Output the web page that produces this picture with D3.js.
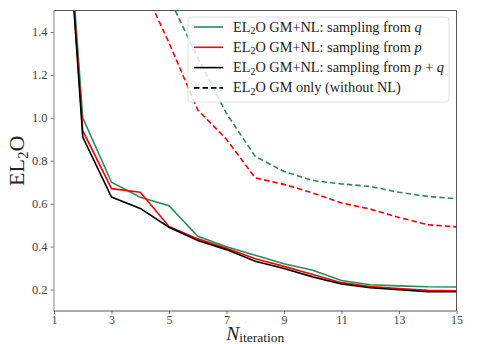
<!DOCTYPE html>
<html>
<head>
<meta charset="utf-8">
<script src="https://cdn.jsdelivr.net/npm/d3@7"></script>
<style>
  body { margin: 0; background: #fff; }
</style>
</head>
<body>
<div id="chart"></div>
<script>
// Datos
const iterations = [1, 2, 3, 4, 5, 6, 7, 8, 9, 10, 11, 12, 13, 14, 15];
const gmnlQ   = [2.85, 1.00, 0.70, 0.63, 0.59, 0.448, 0.399, 0.36, 0.32, 0.29, 0.242, 0.222, 0.217, 0.213, 0.212];
const gmnlP   = [2.85, 0.94, 0.67, 0.653, 0.494, 0.436, 0.392, 0.343, 0.308, 0.27, 0.232, 0.214, 0.205, 0.196, 0.194];
const gmnlPQ  = [2.85, 0.91, 0.631, 0.578, 0.49, 0.428, 0.386, 0.332, 0.298, 0.259, 0.226, 0.208, 0.199, 0.19, 0.19];
const gmOnlyQ = [4.0, 3.0, 2.4, 1.9, 1.56, 1.28, 1.02, 0.82, 0.75, 0.708, 0.692, 0.68, 0.653, 0.634, 0.623];
const gmOnlyP = [3.2, 2.5, 2.0, 1.64, 1.35, 1.037, 0.9, 0.72, 0.69, 0.65, 0.603, 0.575, 0.536, 0.502, 0.492];
const xTicks = [1, 3, 5, 7, 9, 11, 13, 15];
const yTicks = [0.2, 0.4, 0.6, 0.8, 1.0, 1.2, 1.4];

const COLOR_GREEN = '#2e8b57';
const COLOR_RED = '#ff0000';
const COLOR_BLACK = '#000000';
const SERIF = '"Liberation Serif", "DejaVu Serif", serif';

const series = [
    {values: gmnlQ, color: COLOR_GREEN, dash: null},
    {values: gmnlP, color: COLOR_RED, dash: null},
    {values: gmnlPQ, color: COLOR_BLACK, dash: null},
    {values: gmOnlyQ, color: COLOR_GREEN, dash: '5.5,3'},
    {values: gmOnlyP, color: COLOR_RED, dash: '5.5,3'}
];

const legendItems = [
    {color: COLOR_GREEN, dash: null, tail: 'q'},
    {color: COLOR_RED, dash: null, tail: 'p'},
    {color: COLOR_BLACK, dash: null, tail: 'p+q'},
    {color: COLOR_BLACK, dash: '5.5,3', tail: null}
];

let margin = {top: 10.5, right: 34.5, bottom: 33, left: 54},
    width = 491 - margin.left - margin.right,
    height = 344 - margin.top - margin.bottom;

let svg = d3.select('#chart')
    .append('svg')
        .attr('width', 491)
        .attr('height', 344)
        .style('font-family', SERIF)
    .append('g')
        .attr('transform', 'translate(' + margin.left + ',' + margin.top + ')');

let x = d3.scaleLinear().domain([1, 15]).range([0, width]);
let y = d3.scaleLinear().domain([0.1, 1.5]).range([height, 0]);

svg.append('clipPath').attr('id', 'clip')
    .append('rect').attr('width', width).attr('height', height);

//Lineas
let line = d3.line()
    .x(function(d, i) { return x(iterations[i]); })
    .y(function(d) { return y(d); });

let lines = svg.append('g').attr('clip-path', 'url(#clip)');
lines.selectAll('path')
    .data(series)
    .enter()
    .append('path')
    .attr('d', function(d) { return line(d.values); })
    .attr('fill', 'none')
    .attr('stroke', function(d) { return d.color; })
    .attr('stroke-width', 1.6)
    .attr('stroke-dasharray', function(d) { return d.dash; });

//Ejes
let xAxis = svg.append('g')
    .attr('transform', 'translate(0,' + height + ')')
    .call(d3.axisBottom(x).tickValues(xTicks).tickSize(3).tickPadding(1));
let yAxis = svg.append('g')
    .call(d3.axisLeft(y).tickValues(yTicks).tickSize(3.5).tickPadding(3).tickFormat(d3.format('.1f')));

[xAxis, yAxis].forEach(function(g) {
    g.attr('font-family', null);
    g.select('.domain').remove();
    g.selectAll('.tick line').attr('stroke', '#555').attr('stroke-width', 0.8);
    g.selectAll('.tick text')
        .attr('fill', '#444')
        .style('font-family', SERIF)
        .style('font-size', '12.5px');
});
xAxis.selectAll('.tick text').style('font-size', '12px');

//Marco
svg.append('line').attr('x1', 0).attr('x2', width).attr('y1', 0).attr('y2', 0).attr('stroke', '#555').attr('stroke-width', 1);
svg.append('line').attr('x1', width).attr('x2', width).attr('y1', 0).attr('y2', height).attr('stroke', '#555').attr('stroke-width', 1);
svg.append('line').attr('x1', 0).attr('x2', width).attr('y1', height).attr('y2', height).attr('stroke', '#555').attr('stroke-width', 1);
svg.append('line').attr('x1', 0).attr('x2', 0).attr('y1', 0).attr('y2', height).attr('stroke', '#999').attr('stroke-width', 1.2);

//Titulos de ejes
let yLabel = svg.append('text')
    .attr('transform', 'translate(' + (-30) + ',' + (height / 2) + ') rotate(-90)')
    .attr('text-anchor', 'middle')
    .style('font-size', '22px')
    .attr('fill', '#222');
yLabel.append('tspan').text('EL');
yLabel.append('tspan').attr('dy', 4).style('font-size', '15px').text('2');
yLabel.append('tspan').attr('dy', -4).text('O');

let xLabel = svg.append('text')
    .attr('x', width / 2)
    .attr('y', height + 29)
    .attr('text-anchor', 'middle')
    .attr('fill', '#222');
xLabel.append('tspan').style('font-style', 'italic').style('font-size', '19.5px').text('N');
xLabel.append('tspan').attr('dy', 2).style('font-size', '13.5px').text('iteration');

//Leyenda
let legend = svg.append('g').attr('transform', 'translate(' + (188 - margin.left) + ',' + (17 - margin.top) + ')');
legend.append('rect')
    .attr('width', 261).attr('height', 85)
    .attr('rx', 3)
    .attr('fill', 'white').attr('fill-opacity', 0.8)
    .attr('stroke', '#d8d8d8').attr('stroke-width', 0.8);

let items = legend.selectAll('.item')
    .data(legendItems)
    .enter()
    .append('g')
    .attr('class', 'item')
    .attr('transform', function(d, i) { return 'translate(0,' + (10 + i * 20.3) + ')'; });

items.append('line')
    .attr('x1', 6).attr('x2', 35)
    .attr('stroke', function(d) { return d.color; })
    .attr('stroke-width', 1.6)
    .attr('stroke-dasharray', function(d) { return d.dash; });

items.each(function(d) {
    let t = d3.select(this).append('text')
        .attr('x', 45).attr('y', 4.5)
        .attr('fill', '#222')
        .style('font-size', '14.3px');
    t.append('tspan').text('EL');
    t.append('tspan').attr('dy', 2.5).style('font-size', '10px').text('2');
    t.append('tspan').attr('dy', -2.5).text(d.tail ? 'O GM+NL: sampling from ' : 'O GM only (without NL)');
    if (d.tail == 'p+q') {
        t.append('tspan').style('font-style', 'italic').text('p');
        t.append('tspan').text(' + ');
        t.append('tspan').style('font-style', 'italic').text('q');
    } else if (d.tail) {
        t.append('tspan').style('font-style', 'italic').text(d.tail);
    }
});
</script>
</body>
</html>
